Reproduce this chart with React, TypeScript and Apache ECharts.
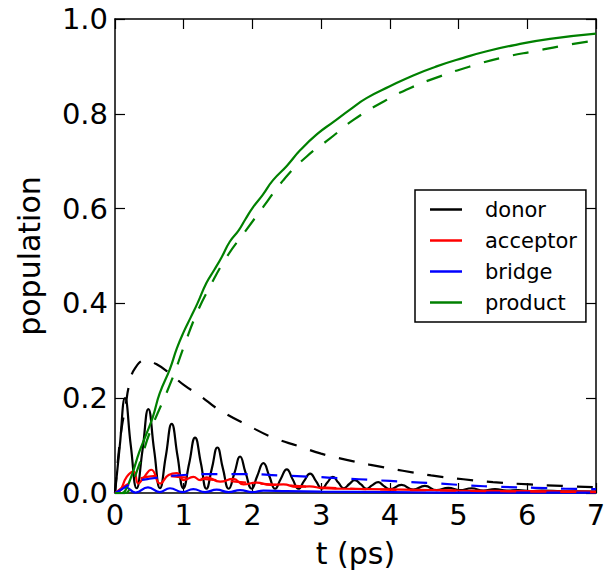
import React, { useEffect, useRef } from "react";
import * as echarts from "echarts";

const xTicks = [0, 1, 2, 3, 4, 5, 6, 7];
const yTicks = [0, 0.2, 0.4, 0.6, 0.8, 1.0];
const legendNames = ["donor", "acceptor", "bridge", "product"];
const colors = ["#000000", "#ff0000", "#0000ff", "#008000"];

const donor = [
  [0, 0], [0.07, 0.1], [0.146, 0.2], [0.23, 0.1], [0.315, 0.01], [0.4, 0.09], [0.485, 0.177],
  [0.57, 0.09], [0.655, 0.01], [0.74, 0.078], [0.825, 0.146], [0.91, 0.078], [0.995, 0.01],
  [1.08, 0.063], [1.165, 0.117], [1.25, 0.063], [1.33, 0.009], [1.41, 0.052], [1.49, 0.096],
  [1.57, 0.052], [1.655, 0.009], [1.74, 0.043], [1.82, 0.077], [1.9, 0.043], [1.99, 0.009],
  [2.07, 0.036], [2.16, 0.063], [2.245, 0.036], [2.33, 0.009], [2.41, 0.029], [2.5, 0.05],
  [2.585, 0.029], [2.67, 0.009], [2.75, 0.025], [2.84, 0.041], [2.925, 0.025], [3.01, 0.009],
  [3.09, 0.022], [3.17, 0.034], [3.25, 0.022], [3.33, 0.01], [3.41, 0.019], [3.49, 0.027],
  [3.58, 0.018], [3.66, 0.009], [3.74, 0.016], [3.83, 0.023], [3.91, 0.015], [4.0, 0.008],
  [4.17, 0.017], [4.34, 0.007], [4.51, 0.015], [4.68, 0.006], [4.85, 0.011], [5.02, 0.006],
  [5.19, 0.01], [5.36, 0.005], [5.53, 0.008], [5.7, 0.005], [5.87, 0.006], [6.04, 0.004],
  [6.21, 0.005], [6.5, 0.004], [7.0, 0.003],
];
const acceptor = [
  [0, 0], [0.07, 0.004], [0.17, 0.034], [0.27, 0.045], [0.34, 0.02], [0.41, 0.031], [0.53, 0.049],
  [0.655, 0.02], [0.78, 0.038], [0.9, 0.042], [1.0, 0.027], [1.14, 0.034], [1.24, 0.027],
  [1.33, 0.033], [1.53, 0.024], [1.72, 0.03], [1.87, 0.018], [2.06, 0.022], [2.26, 0.017],
  [2.45, 0.018], [2.64, 0.013], [2.83, 0.014], [3.03, 0.01], [3.32, 0.009], [3.7, 0.008],
  [4.2, 0.007], [5.0, 0.005], [6.0, 0.004], [7.0, 0.003],
];
const bridge = [
  [0, 0], [0.05, 0.004], [0.15, 0.012], [0.3, 0.001], [0.48, 0.012], [0.65, 0.002], [0.8, 0.01],
  [0.98, 0.002], [1.14, 0.008], [1.31, 0.002], [1.48, 0.007], [1.65, 0.002], [1.82, 0.006],
  [2.0, 0.002], [2.16, 0.005], [2.5, 0.004], [3.0, 0.003], [4.0, 0.002], [5.0, 0.001], [7.0, 0.001],
];
const product = [
  [0, 0], [0.1, 0], [0.15, 0.005], [0.25, 0.04], [0.35, 0.085], [0.45, 0.122], [0.55, 0.16],
  [0.65, 0.21], [0.8, 0.262], [0.9, 0.305], [1.0, 0.34], [1.1, 0.37], [1.2, 0.4], [1.33, 0.443],
  [1.45, 0.472], [1.55, 0.497], [1.67, 0.53], [1.8, 0.554], [1.9, 0.578], [2.01, 0.603],
  [2.15, 0.629], [2.3, 0.66], [2.5, 0.69], [2.7, 0.724], [2.94, 0.757], [3.18, 0.783],
  [3.42, 0.809], [3.66, 0.833], [4.0, 0.858], [4.34, 0.881], [4.68, 0.9], [5.07, 0.918],
  [5.41, 0.932], [5.85, 0.946], [6.33, 0.958], [7.0, 0.969],
];
const donorRate = [
  [0, 0], [0.05, 0.08], [0.1, 0.14], [0.15, 0.18], [0.21, 0.23], [0.3, 0.265], [0.45, 0.28],
  [0.6, 0.272], [0.8, 0.252], [1.0, 0.228], [1.24, 0.205], [1.5, 0.177], [1.97, 0.14],
  [2.3, 0.117], [2.69, 0.098], [3.0, 0.083], [3.37, 0.07], [3.7, 0.06], [4.19, 0.047],
  [4.6, 0.037], [5.07, 0.029], [5.5, 0.023], [6.04, 0.018], [6.5, 0.015], [7.0, 0.012],
];
const acceptorRate = [
  [0, 0], [0.2, 0.02], [0.4, 0.032], [0.7, 0.036], [1.0, 0.033], [1.5, 0.027], [2.0, 0.021],
  [2.5, 0.016], [3.0, 0.012], [3.5, 0.009], [4.0, 0.007], [5.0, 0.005], [6.0, 0.003], [7.0, 0.002],
];
const bridgeRate = [
  [0, 0], [0.1, 0.008], [0.2, 0.017], [0.3, 0.024], [0.5, 0.03], [1.0, 0.038], [1.5, 0.04],
  [1.9, 0.04], [2.4, 0.037], [2.9, 0.034], [3.3, 0.031], [3.8, 0.027], [4.2, 0.024], [4.7, 0.02],
  [5.15, 0.016], [5.6, 0.013], [6.1, 0.011], [6.55, 0.009], [7.0, 0.008],
];
const productRate = [
  [0, 0], [0.15, 0], [0.2, 0.005], [0.36, 0.063], [0.51, 0.129], [0.825, 0.238], [1.02, 0.316],
  [1.19, 0.379], [1.38, 0.435], [1.63, 0.499], [1.89, 0.551], [2.16, 0.604], [2.45, 0.66],
  [2.79, 0.71], [3.13, 0.748], [3.47, 0.787], [3.91, 0.826], [4.29, 0.854], [4.73, 0.879],
  [5.17, 0.9], [5.65, 0.919], [6.14, 0.933], [6.53, 0.944], [7.0, 0.955],
];

const FONT = "DejaVu Sans";

export default function App() {
  const ref = useRef<HTMLDivElement>(null);
  useEffect(() => {
    const chart = echarts.init(ref.current!, null, { renderer: "svg" });
    const solid = [donor, acceptor, bridge, product];
    const dashed = [donorRate, acceptorRate, bridgeRate, productRate];
    const series: any[] = [];
    solid.forEach((d, i) => {
      series.push({
        name: legendNames[i], type: "line", data: d, showSymbol: false, smooth: 0.5,
        lineStyle: { color: colors[i], width: 2.2 }, itemStyle: { color: colors[i] },
      });
    });
    dashed.forEach((d, i) => {
      series.push({
        name: legendNames[i] + " (rate)", type: "line", data: d, showSymbol: false, smooth: 0.5,
        lineStyle: { color: colors[i], width: 2.2, type: [16, 14] }, itemStyle: { color: colors[i] },
      });
    });
    const axisLine = { show: true, onZero: false, lineStyle: { color: "#000", width: 1.5 } };
    const axisTick = { show: true, inside: true, length: 10, lineStyle: { color: "#000", width: 1.2 } };
    chart.setOption({
      animation: false,
      grid: { left: 115, top: 19, width: 481, height: 474, outerBoundsMode: "none" },
      legend: {
        data: legendNames, orient: "vertical", left: 415, top: 190, selectedMode: false,
        backgroundColor: "#fff", borderColor: "#000", borderWidth: 1.5, borderRadius: 0,
        padding: [9, 9, 9, 15], itemGap: 10, itemWidth: 32, itemHeight: 2.5, icon: "rect",
        textStyle: { fontSize: 21, color: "#000", fontFamily: FONT, padding: [0, 0, 0, 18] },
      },
      xAxis: [
        {
          type: "value", min: xTicks[0], max: xTicks[xTicks.length - 1], interval: 1, position: "bottom",
          axisLine, axisTick, splitLine: { show: false },
          axisLabel: { fontSize: 29, color: "#000", fontFamily: FONT, margin: 7 },
          name: "t (ps)", nameLocation: "middle", nameGap: 45,
          nameTextStyle: { fontSize: 30, color: "#000", fontFamily: FONT },
        },
        {
          type: "value", min: 0, max: 7, interval: 1, position: "top",
          axisLine, axisTick, splitLine: { show: false }, axisLabel: { show: false },
        },
      ],
      yAxis: [
        {
          type: "value", min: yTicks[0], max: yTicks[yTicks.length - 1], interval: 0.2, position: "left",
          axisLine, axisTick, splitLine: { show: false },
          axisLabel: { fontSize: 29, color: "#000", fontFamily: FONT, margin: 7, formatter: (v: number) => v.toFixed(1) },
          name: "population", nameLocation: "middle", nameGap: 71,
          nameTextStyle: { fontSize: 30, color: "#000", fontFamily: FONT },
        },
        {
          type: "value", min: 0, max: 1, interval: 0.2, position: "right",
          axisLine, axisTick, splitLine: { show: false }, axisLabel: { show: false },
        },
      ],
      series,
    });
    return () => chart.dispose();
  }, []);
  return <div ref={ref} style={{ position: "absolute", left: 0, top: 0, width: 613, height: 571 }} />;
}
